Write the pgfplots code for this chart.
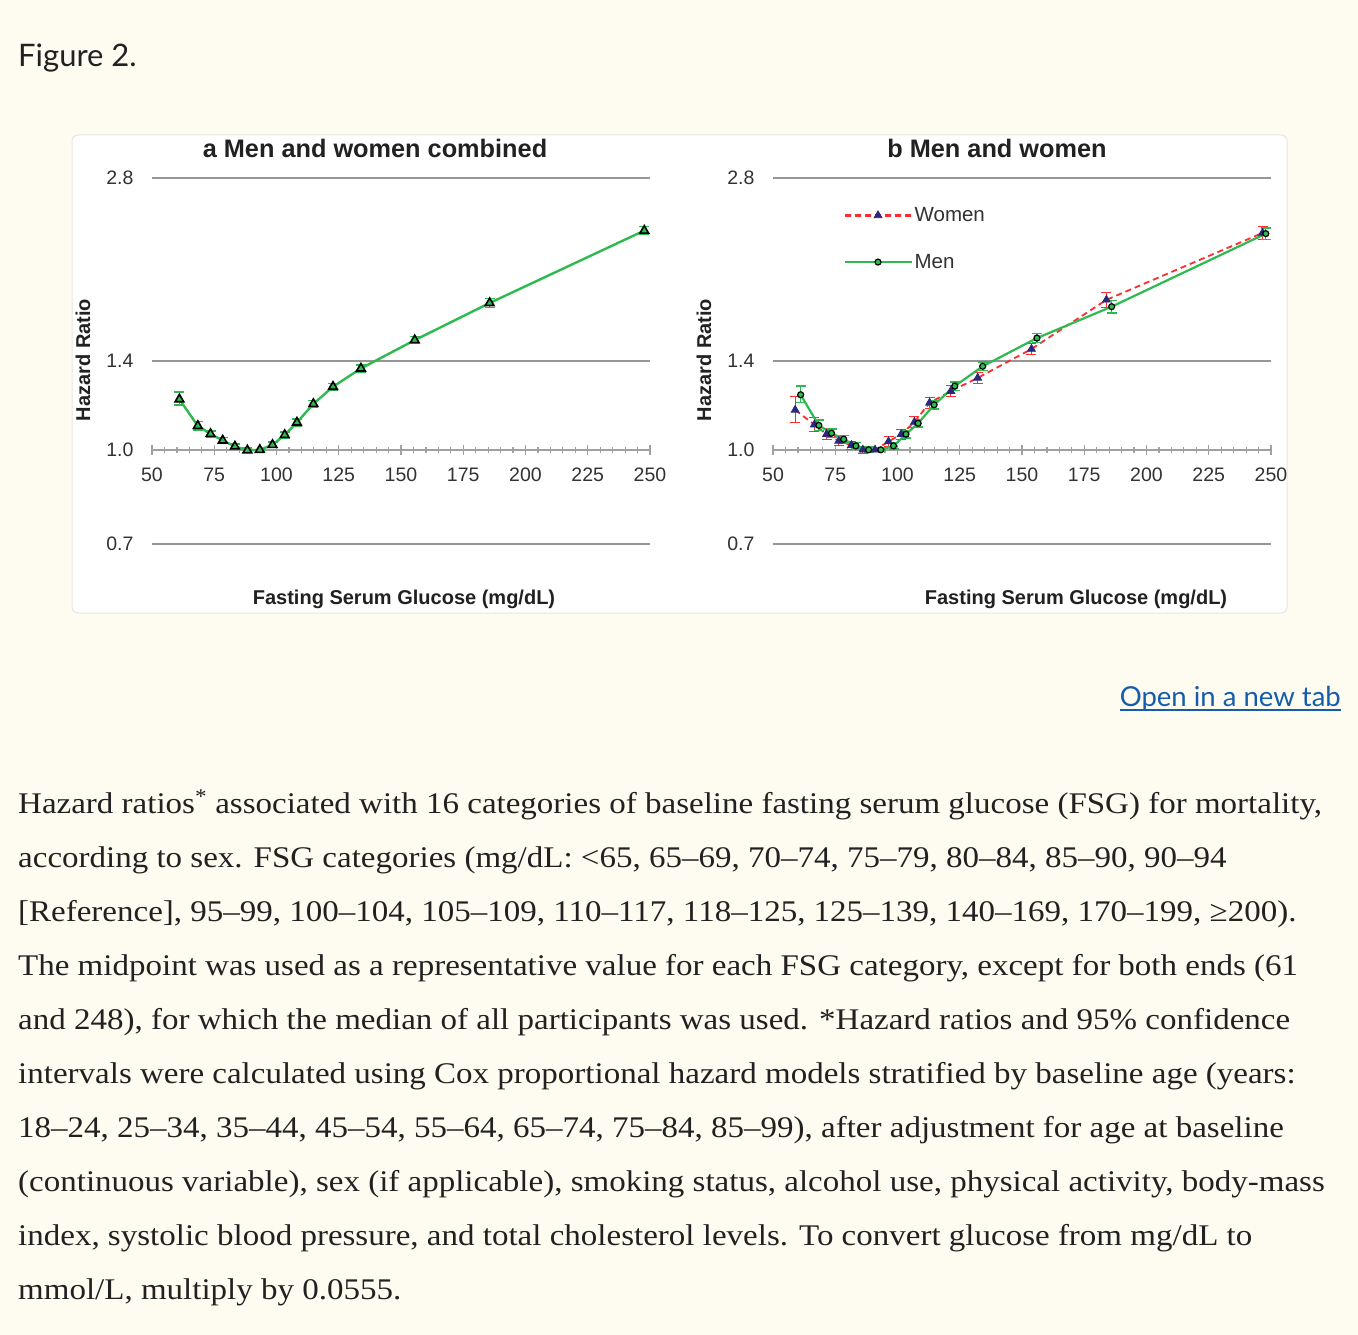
\documentclass[border=0pt]{standalone}
\usepackage{fontspec}
\setmainfont{Liberation Serif}[FakeStretch=1.1]
\newfontfamily\arial{Liberation Sans}
\newfontfamily\lato{Lato}
\usepackage{pgfplots}
\usepackage{pgfplotstable}
\pgfplotsset{compat=1.18}
\usetikzlibrary{calc}

\definecolor{bg}{RGB}{254,252,241}
\definecolor{boxline}{RGB}{230,230,226}
\definecolor{lgreen}{RGB}{46,186,80}
\definecolor{lred}{RGB}{255,45,45}
\definecolor{navy}{RGB}{40,40,125}
\definecolor{axgray}{RGB}{160,160,160}
\definecolor{gridgray}{RGB}{150,150,150}
\definecolor{tickgray}{RGB}{50,50,50}
\definecolor{txt}{RGB}{33,33,33}
\definecolor{link}{RGB}{20,92,172}

\newcommand{\fs}[1]{\fontsize{#1pt}{#1pt}\selectfont}

% x  hr  err+  err-
\pgfplotstableread{
x     y     ep    em
61.0  1.211 0.035 0.027
68.4  1.095 0.018 0.018
73.5  1.062 0.013 0.013
78.4  1.036 0.011 0.011
83.3  1.013 0.010 0.010
88.3  0.998 0.008 0.008
93.3  1.000 0.000 0.000
98.4  1.019 0.010 0.010
103.3 1.058 0.012 0.012
108.2 1.109 0.014 0.014
114.8 1.190 0.015 0.015
122.7 1.270 0.016 0.016
133.9 1.361 0.018 0.018
155.5 1.515 0.020 0.020
185.6 1.744 0.030 0.030
247.7 2.294 0.035 0.035
}\combined

\pgfplotstableread{
x     y     ep    em
58.9  1.163 0.063 0.055
66.6  1.100 0.030 0.028
71.5  1.061 0.022 0.022
76.4  1.034 0.018 0.018
81.5  1.018 0.015 0.015
86.1  1.000 0.012 0.012
91.0  1.000 0.000 0.000
96.4  1.032 0.018 0.018
101.5 1.061 0.020 0.020
106.8 1.111 0.022 0.022
112.9 1.195 0.024 0.024
121.4 1.249 0.026 0.026
132.2 1.313 0.028 0.028
153.8 1.465 0.032 0.032
183.9 1.765 0.050 0.050
246.6 2.274 0.055 0.055
}\women

\pgfplotstableread{
x     y     ep    em
61.1  1.232 0.041 0.037
68.4  1.097 0.022 0.022
73.5  1.065 0.017 0.017
78.4  1.041 0.015 0.015
83.3  1.015 0.012 0.012
88.4  1.000 0.010 0.010
93.3  1.000 0.000 0.000
98.4  1.015 0.012 0.012
103.4 1.061 0.015 0.015
108.3 1.106 0.016 0.016
114.7 1.186 0.018 0.018
123.0 1.273 0.020 0.020
134.2 1.372 0.022 0.022
156.0 1.527 0.026 0.026
186.0 1.720 0.040 0.040
247.9 2.268 0.050 0.050
}\men

\pgfplotsset{
  panel/.style={
    scale only axis, width=498pt, height=366pt,
    anchor=south west,
    xmin=50, xmax=250, ymin=0.7, ymax=2.8,
    axis x line*=middle, axis y line*=left,
    hide obscured x ticks=false,
    y axis line style={draw=none},
    x axis line style={draw=axgray, line width=1.4pt},
    xtick={50,75,...,250},
    xticklabels={50,75,100,125,150,175,200,225,250},
    minor x tick num=4,
    ytick={0.7,1,1.4,2.8}, yticklabels={0.7,1.0,1.4,2.8},
    ytick style={draw=none},
    xtick style={draw=axgray, line width=1.2pt},
    major tick length=10pt, minor tick length=6pt, tick align=center,
    ymajorgrids, grid style={draw=gridgray, line width=1.6pt},
    ticklabel style={font=\arial\fs{19.5}, text=tickgray},
    yticklabel style={xshift=-10pt},
    xticklabel style={yshift=-10pt},
    clip=false,
  },
}

\begin{document}
\begin{tikzpicture}
\path[use as bounding box, fill=bg] (0,0) rectangle (1358pt,-1335pt);

\node[anchor=base west, inner sep=0, font=\lato\fs{31}, text=txt] at (18pt,-67pt) {Figure 2.};

\draw[boxline, fill=white, line width=1pt, rounded corners=6pt] (72pt,-135pt) rectangle (1287pt,-613pt);

% panel a
\begin{axis}[ymode=log, panel, at={(152pt,-544pt)}]
\addplot[draw=lgreen, line width=2.4pt, mark=triangle*, mark size=5pt,
  mark options={fill=lgreen, draw=black, line width=1.6pt},
  error bars/.cd, y dir=both, y explicit,
  error bar style={draw=lgreen, line width=1.4pt},
  error mark options={rotate=90, draw=lgreen, mark size=5pt, line width=1.6pt}]
  table[x=x, y=y, y error plus=ep, y error minus=em]{\combined};
\end{axis}

% panel b
\begin{axis}[ymode=log, panel, at={(773pt,-544pt)},
  legend style={at={(axis description cs:0.141,0.925)}, anchor=north west,
    draw=none, fill=none, inner sep=0pt, row sep=27pt,
    font=\arial\fs{20.5}, nodes={text=tickgray}},
  legend cell align=left]
\addplot[draw=lred, line width=1.8pt, dash pattern=on 6pt off 4pt,
  mark=triangle*, mark size=4.5pt,
  mark options={fill=navy, draw=navy, solid, line width=0.8pt},
  error bars/.cd, y dir=both, y explicit,
  error bar style={draw=lred, solid, line width=0.9pt},
  error mark options={rotate=90, draw=lred, solid, mark size=5pt, line width=0.9pt}]
  table[x=x, y=y, y error plus=ep, y error minus=em]{\women};
\addlegendentry{Women}
\addplot[draw=lgreen, line width=2.2pt,
  mark=*, mark size=3pt,
  mark options={fill=lgreen, draw=black, line width=1.2pt},
  error bars/.cd, y dir=both, y explicit,
  error bar style={draw=lgreen, line width=1.2pt},
  error mark options={rotate=90, draw=lgreen, mark size=5pt, line width=1.4pt}]
  table[x=x, y=y, y error plus=ep, y error minus=em]{\men};
\addlegendentry{Men}
\pgfplotsset{
  legend image code/.code={%
    \draw[#1, line width=2.2pt, mark=none] (0pt,0pt) -- (67pt,0pt);
    \draw[#1] plot coordinates {(33.5pt,0pt)};},
}
\end{axis}

% panel titles and axis labels
\node[font=\arial\bfseries\fs{25.3}, text=txt] at (375pt,-148pt) {a Men and women combined};
\node[font=\arial\bfseries\fs{25.3}, text=txt] at (997pt,-148pt) {b Men and women};
\node[font=\arial\bfseries\fs{20}, text=txt] at (404pt,-599pt) {Fasting Serum Glucose (mg/dL)};
\node[font=\arial\bfseries\fs{20}, text=txt] at (1076pt,-599pt) {Fasting Serum Glucose (mg/dL)};
\node[font=\arial\bfseries\fs{20}, text=txt, rotate=90] at (83pt,-360pt) {Hazard Ratio};
\node[font=\arial\bfseries\fs{20}, text=txt, rotate=90] at (704pt,-360pt) {Hazard Ratio};

\node[anchor=base east, inner sep=0, font=\lato\fs{27.5}, text=link] (lnk) at (1341pt,-706pt) {Open in a new tab};
\draw[link, line width=1.6pt] ($(lnk.base west)+(0,-4pt)$) -- ($(lnk.base east)+(0,-4pt)$);

\begin{scope}[every node/.style={anchor=base west, inner sep=0, font=\fs{30}, text=txt}]
\node at (18pt,-813pt) {Hazard ratios\textsuperscript{*} associated with 16 categories of baseline fasting serum glucose (FSG) for mortality,};
\node at (18pt,-867pt) {according to sex. FSG categories (mg/dL: <65, 65–69, 70–74, 75–79, 80–84, 85–90, 90–94};
\node at (18pt,-921pt) {[Reference], 95–99, 100–104, 105–109, 110–117, 118–125, 125–139, 140–169, 170–199, ≥200).};
\node at (18pt,-975pt) {The midpoint was used as a representative value for each FSG category, except for both ends (61};
\node at (18pt,-1029pt) {and 248), for which the median of all participants was used. *Hazard ratios and 95\% confidence};
\node at (18pt,-1083pt) {intervals were calculated using Cox proportional hazard models stratified by baseline age (years:};
\node at (18pt,-1137pt) {18–24, 25–34, 35–44, 45–54, 55–64, 65–74, 75–84, 85–99), after adjustment for age at baseline};
\node at (18pt,-1191pt) {(continuous variable), sex (if applicable), smoking status, alcohol use, physical activity, body-mass};
\node at (18pt,-1245pt) {index, systolic blood pressure, and total cholesterol levels. To convert glucose from mg/dL to};
\node at (18pt,-1299pt) {mmol/L, multiply by 0.0555.};
\end{scope}
\end{tikzpicture}
\end{document}
